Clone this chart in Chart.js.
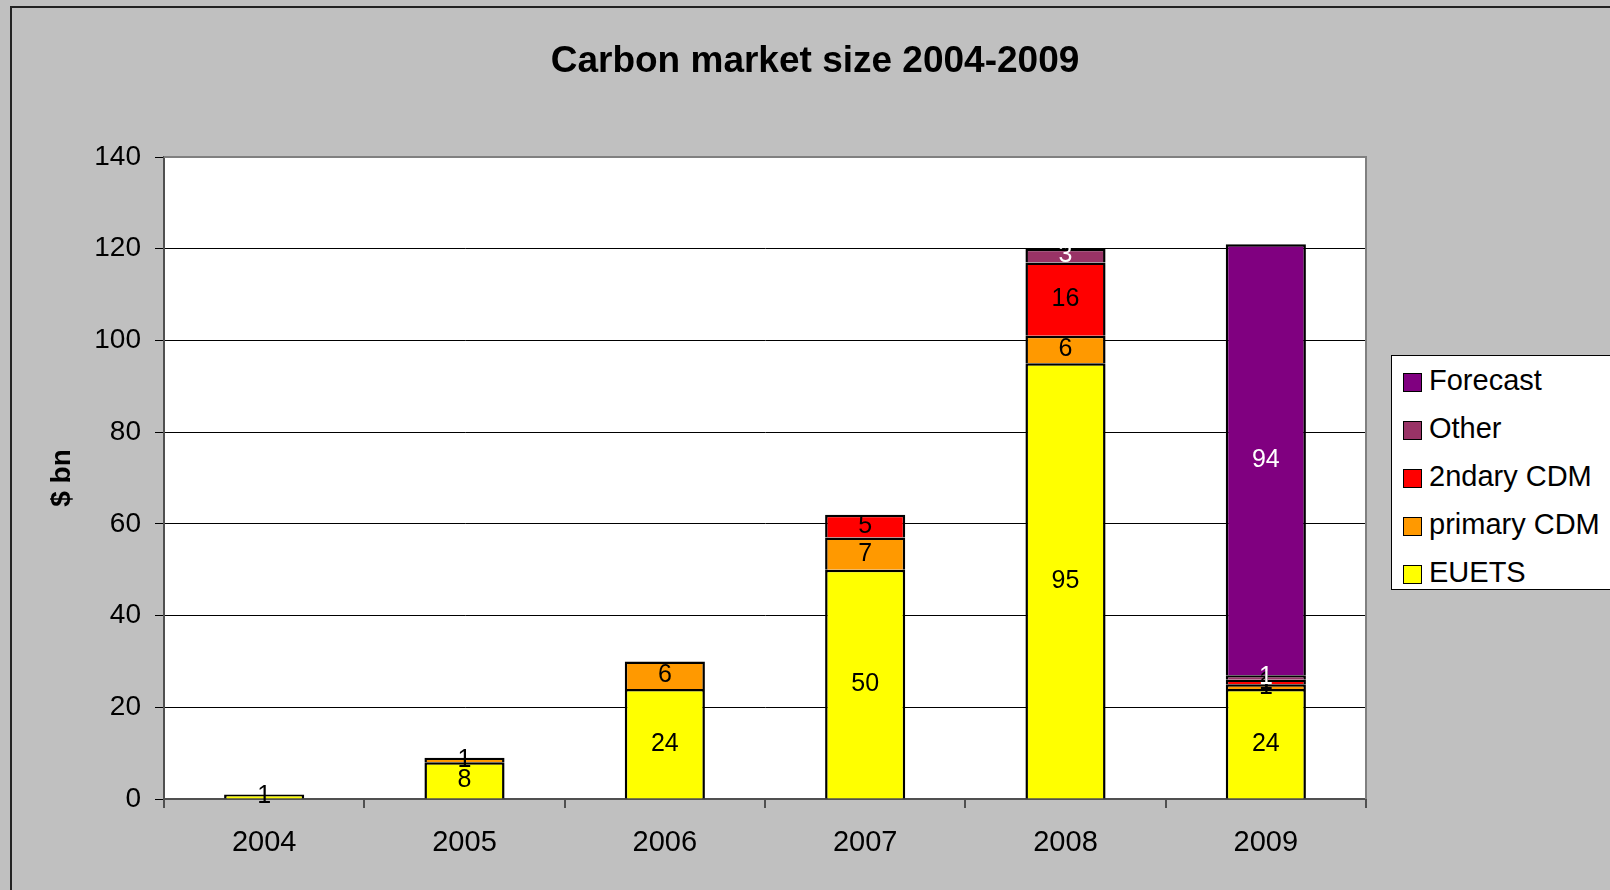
<!DOCTYPE html>
<html>
<head>
<meta charset="utf-8">
<script src="https://cdn.jsdelivr.net/npm/chart.js@4/dist/chart.umd.min.js"></script>
<style>
body{margin:0;background:#c0c0c0;overflow:hidden;}
#wrap{position:relative;width:1610px;height:890px;}
#legend{position:absolute;left:1391px;top:355px;width:260px;height:235px;background:#fff;border:1.5px solid #000;
    font-family:"Liberation Sans",Arial,sans-serif;font-size:29px;color:#000;box-sizing:border-box;padding-top:0;}
#legend div{height:48.2px;display:flex;align-items:center;}
#legend span.sw{display:inline-block;width:17px;height:17px;border:1.5px solid #000;margin-left:11px;margin-right:7px;margin-top:4px;}
</style>
</head>
<body>
<div id="wrap">
<canvas id="chart"></canvas>
<div id="legend"></div>
</div>
<script>
let years = ["2004","2005","2006","2007","2008","2009"];
let euets = [1, 8, 24, 50, 95, 24];
let primaryCdm = [0, 1, 6, 7, 6, 1];
let secondaryCdm = [0, 0, 0, 5, 16, 1];
let other = [0, 0, 0, 0, 3, 1];
let forecast = [0, 0, 0, 0, 0, 94];
let yTicks = [0, 20, 40, 60, 80, 100, 120, 140];

const FONT = "'Liberation Sans', Arial, sans-serif";
const TITLE = "Carbon market size 2004-2009";

// zero means no segment for that year
function seg(arr){ return arr.map(v => v > 0 ? v : null); }

function ds(label, arr, color, textColor){
    return {
        label: label,
        data: seg(arr),
        backgroundColor: color,
        borderColor: "#000",
        // each segment draws only its top edge so stacked joins stay single
        borderWidth: { left: 2.5, right: 2.5, top: 2.5, bottom: 0 },
        borderSkipped: false,
        barPercentage: 0.4,
        categoryPercentage: 1,
        labelColor: textColor
    };
}

// frame, title, white plot area and plot border
const backdrop = {
    id: "backdrop",
    beforeDraw(chart){
        let c = chart.ctx, a = chart.chartArea;
        c.save();
        c.fillStyle = "#c0c0c0";
        c.fillRect(0, 0, chart.width, chart.height);
        c.strokeStyle = "#222";
        c.lineWidth = 2;
        c.strokeRect(11, 7, 1700, 1000);
        c.fillStyle = "#fff";
        c.fillRect(a.left, a.top, a.right - a.left, a.bottom - a.top);
        c.fillStyle = "#000";
        c.font = "bold 37px " + FONT;
        c.textAlign = "center";
        c.textBaseline = "alphabetic";
        c.fillText(TITLE, 815, 72);
        c.restore();
    },
    afterDatasetsDraw(chart){
        let c = chart.ctx, a = chart.chartArea;
        c.save();
        c.strokeStyle = "#808080";
        c.lineWidth = 2;
        c.beginPath();
        c.moveTo(a.left, a.top);
        c.lineTo(a.right, a.top);
        c.lineTo(a.right, a.bottom);
        c.stroke();
        c.restore();
    }
};

// value in the middle of every segment
const barLabels = {
    id: "barLabels",
    afterDatasetsDraw(chart){
        let c = chart.ctx;
        c.save();
        c.font = "25px " + FONT;
        c.textAlign = "center";
        c.textBaseline = "middle";
        chart.data.datasets.forEach((d, i) => {
            let meta = chart.getDatasetMeta(i);
            meta.data.forEach((bar, j) => {
                let v = d.data[j];
                if(v == null) return;
                c.fillStyle = d.labelColor;
                c.fillText(v, bar.x, (bar.y + bar.base) / 2);
            });
        });
        c.restore();
    }
};

let chart = new Chart(document.getElementById("chart"), {
    type: "bar",
    data: {
        labels: years,
        datasets: [
            ds("EUETS", euets, "#ffff00", "#000"),
            ds("primary CDM", primaryCdm, "#ff9900", "#000"),
            ds("2ndary CDM", secondaryCdm, "#ff0000", "#000"),
            ds("Other", other, "#993366", "#fff"),
            ds("Forecast", forecast, "#800080", "#fff")
        ]
    },
    options: {
        responsive: true,
        maintainAspectRatio: false,
        animation: false,
        layout: { padding: { left: 0, top: 157, right: 244, bottom: 0 } },
        plugins: {
            legend: { display: false },
            tooltip: { enabled: false },
            title: { display: false }
        },
        scales: {
            x: {
                stacked: true,
                afterFit(s){ s.height = 91; },
                grid: { drawOnChartArea: false, drawTicks: true, tickLength: 9, color: "#505050", lineWidth: 2 },
                border: { color: "#505050", width: 2 },
                ticks: { color: "#000", font: { family: FONT, size: 29 }, padding: 18 }
            },
            y: {
                stacked: true,
                min: 0,
                max: 140,
                afterFit(s){ s.width = 164; },
                afterBuildTicks(s){ s.ticks = yTicks.map(v => ({ value: v })); },
                grid: { color: "#000", lineWidth: 1, tickLength: 9 },
                border: { color: "#505050", width: 2 },
                ticks: { color: "#000", font: { family: FONT, size: 28 }, padding: 14 },
                title: {
                    display: true,
                    text: "$ bn",
                    color: "#000",
                    font: { family: FONT, size: 28, weight: "bold" },
                    padding: { top: 45, bottom: 0 }
                }
            }
        }
    },
    plugins: [backdrop, barLabels]
});

// legend lists series top-down in reverse stacking order
let legend = document.getElementById("legend");
chart.data.datasets.slice().reverse().forEach(d => {
    let row = document.createElement("div");
    let sw = document.createElement("span");
    sw.className = "sw";
    sw.style.background = d.backgroundColor;
    row.appendChild(sw);
    row.appendChild(document.createTextNode(d.label));
    legend.appendChild(row);
});
</script>
</body>
</html>
